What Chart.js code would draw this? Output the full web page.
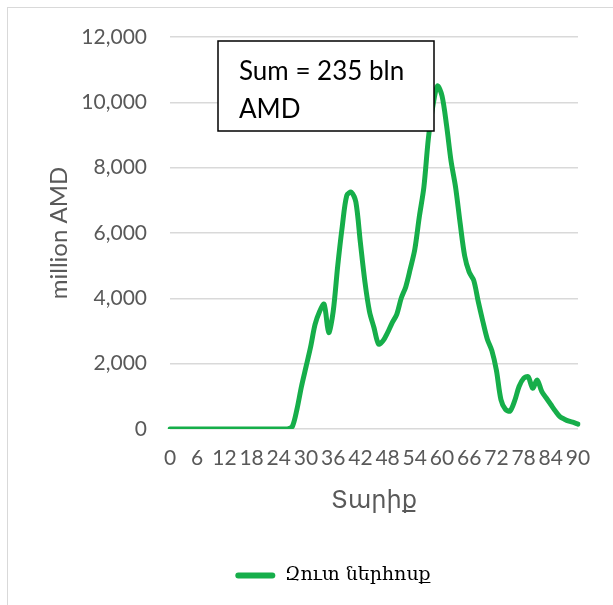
<!DOCTYPE html>
<html>
<head>
<meta charset="utf-8">
<script src="https://cdn.jsdelivr.net/npm/chart.js@4/dist/chart.umd.min.js"></script>
<style>
  html, body { margin: 0; padding: 0; background: #fff; overflow: hidden; width: 613px; height: 605px; }
  #frame { position: absolute; left: 7px; top: 7px; width: 700px; height: 700px;
           border-left: 1.5px solid #D9D9D9; border-top: 1.5px solid #D9D9D9; }
  #wrap { position: absolute; left: 0; top: 0; width: 666px; height: 605px; }
</style>
</head>
<body>
<div id="frame"></div>
<div id="wrap"><canvas id="c" width="666" height="605"></canvas></div>
<script>
// Ages 0..90
const ages = [];
for (let a = 0; a <= 90; a++) ages.push(String(a));

// Net inflow, million AMD, by age
const netInflow = [
  0, 0, 0, 0, 0, 0, 0, 0, 0, 0,            // 0-9
  0, 0, 0, 0, 0, 0, 0, 0, 0, 0,            // 10-19
  0, 0, 0, 0, 0, 0, 0, 80, 600, 1300,      // 20-29
  1900, 2500, 3200, 3600, 3820, 2950, 3600, 5000, 6200, 7150,   // 30-39
  7250, 6950, 5700, 4500, 3600, 3100, 2600, 2700, 2950, 3250,   // 40-49
  3500, 4000, 4350, 4900, 5500, 6500, 7400, 8900, 9900, 10500,  // 50-59
  10200, 9300, 8200, 7400, 6300, 5300, 4800, 4550, 3900, 3300,  // 60-69
  2750, 2400, 1800, 900, 600, 550, 850, 1300, 1550, 1600,       // 70-79
  1250, 1500, 1150, 950, 750, 550, 380, 300, 240, 200,          // 80-89
  150                                                            // 90
];

const seriesName = "Զուտ ներհոսք";
const xTitle = "Տարիք";
const yTitle = "million AMD";
const noteLines = ["Sum = 235 bln", "AMD"];
const labelEvery = 6;

const green = '#16AE4A';
const gray = '#595959';

const notePlugin = {
  id: 'note',
  afterDatasetsDraw(chart) {
    const ctx = chart.ctx;
    const ca = chart.chartArea;
    const x = ca.left + 48, y = ca.top + 4, w = 216, h = 90;
    ctx.save();
    ctx.fillStyle = '#fff';
    ctx.fillRect(x, y, w, h);
    ctx.strokeStyle = '#000';
    ctx.lineWidth = 1.5;
    ctx.strokeRect(x, y, w, h);
    ctx.fillStyle = '#000';
    ctx.font = '26px Lato';
    ctx.textBaseline = 'alphabetic';
    ctx.textAlign = 'left';
    noteLines.forEach((t, i) => ctx.fillText(t, x + 21, y + 39 + i * 37.5));
    ctx.restore();
  }
};

new Chart(document.getElementById('c'), {
  type: 'line',
  data: {
    labels: ages,
    datasets: [{
      label: seriesName,
      data: netInflow,
      borderColor: green,
      backgroundColor: green,
      borderWidth: 5,
      pointRadius: 0,
      pointHoverRadius: 0,
      tension: 0.3,
      borderCapStyle: 'round',
      borderJoinStyle: 'round',
      fill: false
    }]
  },
  options: {
    responsive: false,
    animation: false,
    events: [],
    layout: { padding: { top: 37, left: 0, right: 0, bottom: 10 } },
    plugins: {
      tooltip: { enabled: false },
      legend: {
        position: 'bottom',
        labels: {
          boxWidth: 40,
          boxHeight: 6,
          padding: 10,
          color: '#000',
          font: { family: "'DejaVu Serif'", size: 19 },
          generateLabels: (chart) =>
            Chart.defaults.plugins.legend.labels.generateLabels(chart)
              .map(l => Object.assign(l, { lineWidth: 0, borderRadius: 3 }))
        }
      }
    },
    scales: {
      x: {
        type: 'category',
        offset: false,
        grid: { display: false, drawTicks: false },
        border: { display: false },
        ticks: {
          autoSkip: false,
          maxRotation: 0,
          minRotation: 0,
          padding: 17,
          color: gray,
          font: { family: 'Lato', size: 21 },
          callback: function (v, i) { return i % labelEvery === 0 ? this.getLabelForValue(v) : null; }
        },
        title: {
          display: true,
          text: xTitle,
          color: gray,
          font: { family: "Lato, 'DejaVu Sans'", size: 24 },
          padding: { top: 0, bottom: 41 }
        },
        afterFit: (s) => { s.height = 127; }
      },
      y: {
        min: 0,
        max: 12000,
        grid: { color: '#D9D9D9', lineWidth: 1.5, drawTicks: false },
        border: { display: false },
        ticks: {
          stepSize: 2000,
          padding: 23,
          color: gray,
          font: { family: 'Lato', size: 21 },
          callback: (v) => v.toLocaleString('en-US')
        },
        title: {
          display: true,
          text: yTitle,
          color: gray,
          font: { family: 'Lato', size: 24 },
          padding: { top: 45, bottom: 0 }
        },
        afterFit: (s) => { s.width = 170; }
      },
      spacer: {
        type: 'linear',
        position: 'right',
        display: true,
        grid: { display: false, drawTicks: false },
        border: { display: false },
        ticks: { display: false },
        afterFit: (s) => { s.width = 88; }
      }
    }
  },
  plugins: [notePlugin]
});
</script>
</body>
</html>
